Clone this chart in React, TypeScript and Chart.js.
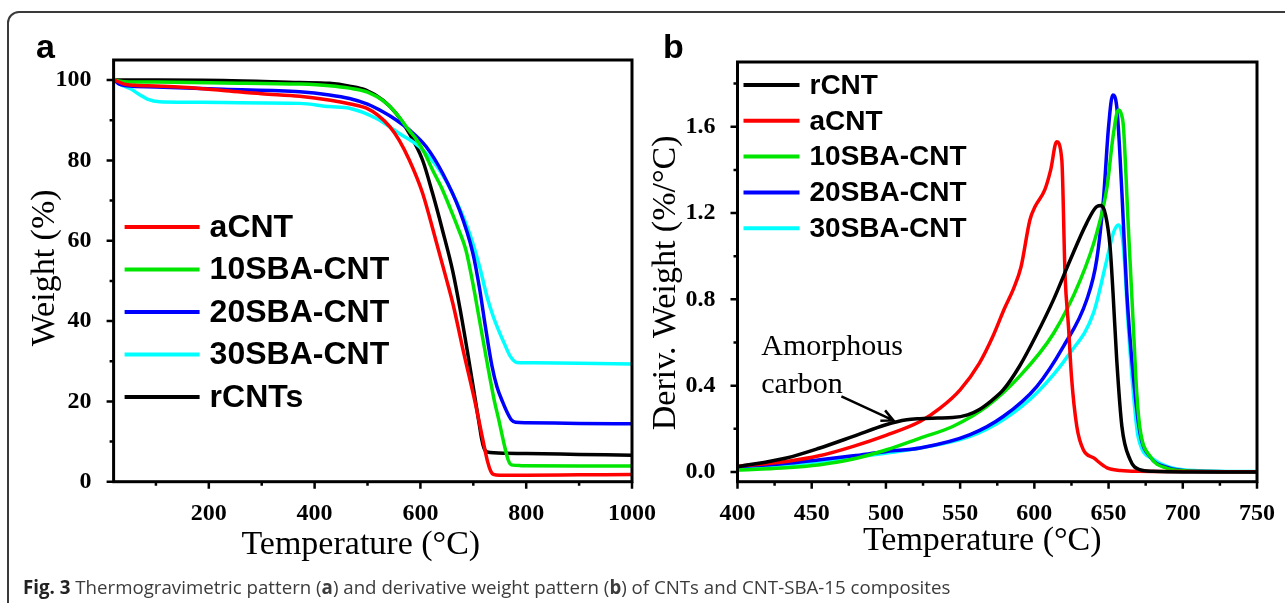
import React, { useEffect, useRef } from 'react';
import { Chart, registerables } from 'chart.js';
Chart.register(...registerables);

const PAGE_W = 1285;
const PAGE_H = 603;

// ---------- Panel a : TGA ----------
const A_X_TICKS = [200, 400, 600, 800, 1000];
const A_X_MINOR = [100, 300, 500, 700, 900];
const A_Y_TICKS = [0, 20, 40, 60, 80, 100];
const A_Y_MINOR = [10, 30, 50, 70, 90];
const A_LABELS = ['aCNT', '10SBA-CNT', '20SBA-CNT', '30SBA-CNT', 'rCNTs'];
const A_COLORS = ['#ff0000', '#00e600', '#0000ff', '#00ffff', '#000000'];

const A_ACNT = [[22,100],[40,99.0],[60,98.7],[100,98.5],[150,98.2],[227,97.4],[300,96.6],[372,96.0],[430,95.0],[470,94.0],[498,93.0],[520,91.2],[542,88.4],[560,85.0],[579,80.1],[604,71.9],[629,60.2],[648,51],[662,44],[682,32],[703,20],[718,10.5],[727,5],[733,2.6],[738,1.8],[750,1.6],[800,1.6],[900,1.7],[1000,1.8]];
const A_10SBA = [[22,100],[40,99.6],[100,99.5],[227,99.3],[372,99.0],[428,98.6],[466,98.0],[500,97.0],[530,94.8],[555,91.6],[579,87.4],[592,85.3],[608,81.8],[623,77.6],[640,73.2],[655,68.5],[671,63.2],[686,57.7],[699,49.5],[712,40],[727,29],[740,20],[748,15.5],[758,9.5],[766,5.4],[772,4.2],[790,4.0],[900,3.9],[1000,3.9]];
const A_20SBA = [[22,100],[30,99.0],[45,98.6],[100,98.3],[227,97.7],[372,97.1],[428,96.3],[466,95.4],[500,94.0],[529,92.1],[555,90.0],[579,87.6],[611,83.4],[642,76.8],[674,67.6],[699,57],[712,48],[723,38.5],[735,29],[745,23.5],[755,20],[765,17],[772,15.4],[780,14.8],[800,14.7],[900,14.5],[1000,14.4]];
const A_30SBA = [[22,100],[35,98.8],[51,97.9],[70,96.3],[85,95.2],[107,94.6],[150,94.5],[227,94.4],[372,94.2],[428,93.4],[466,93.0],[516,90.5],[560,86.7],[598,83.4],[636,77.6],[667,70.1],[693,61.8],[712,53.5],[726,46],[738,41],[750,37],[760,34],[770,31.2],[782,29.7],[800,29.6],[900,29.5],[1000,29.3]];
const A_RCNT = [[22,100],[100,100],[227,99.9],[372,99.4],[428,99.2],[466,98.5],[497,97.5],[529,95],[554,91.7],[579,86.7],[604,80.1],[623,71.8],[642,62.5],[661,52.5],[675,43],[690,31.5],[703,21],[711,14.5],[716,10.5],[720,8.4],[726,7.4],[760,7.1],[800,7.0],[900,6.8],[1000,6.6]];
const A_SERIES = [A_ACNT, A_10SBA, A_20SBA, A_30SBA, A_RCNT];

// ---------- Panel b : DTG ----------
const B_X_TICKS = [400, 450, 500, 550, 600, 650, 700, 750];
const B_X_MINOR = [425, 475, 525, 575, 625, 675, 725];
const B_Y_TICKS = [0, 0.4, 0.8, 1.2, 1.6];
const B_Y_MINOR = [0.2, 0.6, 1.0, 1.4, 1.8];
const B_LABELS = ['rCNT', 'aCNT', '10SBA-CNT', '20SBA-CNT', '30SBA-CNT'];
const B_COLORS = ['#000000', '#ff0000', '#00e600', '#0000ff', '#00ffff'];

const B_RCNT = [[400,0.024],[433,0.065],[455,0.11],[478,0.165],[500,0.219],[514,0.242],[523,0.247],[535,0.25],[545,0.252],[555,0.265],[563,0.29],[571,0.33],[579,0.38],[590,0.49],[601,0.63],[613,0.8],[624,0.98],[635,1.15],[642,1.23],[645,1.235],[648,1.19],[651,1.044],[653,0.83],[655.5,0.52],[659,0.21],[664.5,0.057],[671,0.011],[680,0.003],[700,0.0],[750,0.0]];
const B_ACNT = [[400,0.026],[433,0.049],[455,0.075],[478,0.119],[500,0.17],[523,0.234],[536.5,0.296],[550,0.381],[563,0.505],[572,0.628],[580,0.76],[586,0.85],[591,0.95],[597,1.168],[600.5,1.23],[607,1.307],[611,1.40],[615,1.53],[618.5,1.446],[620.7,0.91],[623,0.674],[625,0.443],[628.6,0.211],[633,0.103],[640,0.065],[649,0.019],[658,0.007],[670,0.003],[700,0.002],[750,0.001]];
const B_10SBA = [[400,0.008],[430,0.018],[455.6,0.034],[478,0.06],[500.5,0.103],[523,0.157],[545,0.211],[568,0.304],[590,0.443],[613,0.643],[631,0.89],[642,1.107],[649,1.322],[653,1.554],[656.6,1.677],[658.5,1.66],[660,1.6],[663.3,1.137],[666.7,0.674],[669,0.365],[671.2,0.2],[678,0.072],[689,0.018],[703,0.005],[750,0.001]];
const B_20SBA = [[400,0.024],[430,0.038],[455.6,0.057],[478,0.075],[500.5,0.095],[523,0.111],[556.7,0.173],[579,0.257],[601.6,0.396],[619.5,0.581],[635.3,0.798],[642,0.983],[646.5,1.26],[650,1.6],[652.8,1.747],[655.5,1.693],[659,1.292],[662.3,0.829],[666.7,0.443],[671.2,0.18],[678,0.07],[690,0.02],[705,0.005],[750,0.001]];
const B_30SBA = [[400,0.015],[430,0.03],[455.6,0.049],[478,0.068],[500.5,0.088],[523,0.111],[556.7,0.165],[579,0.242],[601.6,0.366],[624,0.551],[639.8,0.736],[648.8,0.983],[653.2,1.107],[656.6,1.145],[660,1.044],[663.3,0.674],[666.7,0.366],[670,0.16],[680,0.06],[692,0.02],[710,0.006],[750,0.002]];
const B_SERIES = [B_RCNT, B_ACNT, B_10SBA, B_20SBA, B_30SBA];

// annotation (data units)
const B_NOTE_LINES = ['Amorphous', 'carbon'];
const B_NOTE_POS = [[416, 0.543], [416, 0.366]];
const B_ARROW = [[470, 0.35], [505, 0.239]];

const TICK_FONT = { family: 'Liberation Serif', weight: 'bold' as const, size: 24 };

type PanelCfg = {
  letter: string; letterX: number;
  xTitle: string; yTitle: string;
  xMinor: number[]; yMinor: number[];
  labels: string[]; colors: string[];
  legLine: [number, number]; legText: number; legTop: number; legStep: number; legFont: number; legWidth: number;
  xTitleDx: number; xTitleY: number; yTitleX: number; yTitleDy: number;
  note?: boolean;
};

function makeDecor(cfg: PanelCfg) {
  return {
    id: 'decor',
    afterDatasetsDraw(chart: any) {
      const { ctx, chartArea: ca, scales } = chart;
      const xs = scales.x, ys = scales.y;
      ctx.save();
      // frame
      ctx.strokeStyle = '#000';
      ctx.lineWidth = 3;
      ctx.strokeRect(ca.left, ca.top, ca.right - ca.left, ca.bottom - ca.top);
      // ticks (outward)
      ctx.lineWidth = 2.5;
      ctx.beginPath();
      const xt = (v: number, len: number) => { const p = xs.getPixelForValue(v); ctx.moveTo(p, ca.bottom); ctx.lineTo(p, ca.bottom + len); };
      const yt = (v: number, len: number) => { const p = ys.getPixelForValue(v); ctx.moveTo(ca.left, p); ctx.lineTo(ca.left - len, p); };
      xs.ticks.forEach((t: any) => xt(t.value, 7));
      cfg.xMinor.forEach(v => xt(v, 4));
      ys.ticks.forEach((t: any) => yt(t.value, 7));
      cfg.yMinor.forEach(v => yt(v, 4));
      ctx.stroke();
      // legend
      ctx.font = `bold ${cfg.legFont}px "Liberation Sans", Arial, sans-serif`;
      ctx.textBaseline = 'middle';
      ctx.textAlign = 'left';
      cfg.labels.forEach((lab, i) => {
        const y = ca.top + cfg.legTop + i * cfg.legStep;
        ctx.strokeStyle = cfg.colors[i];
        ctx.lineWidth = cfg.legWidth;
        ctx.beginPath();
        ctx.moveTo(ca.left + cfg.legLine[0], y);
        ctx.lineTo(ca.left + cfg.legLine[1], y);
        ctx.stroke();
        ctx.fillStyle = '#000';
        ctx.fillText(lab, ca.left + cfg.legText, y + 1);
      });
      // annotation
      if (cfg.note) {
        ctx.font = '30px "Liberation Serif", "Times New Roman", serif';
        ctx.fillStyle = '#000';
        ctx.textBaseline = 'alphabetic';
        B_NOTE_LINES.forEach((t, i) => {
          ctx.fillText(t, xs.getPixelForValue(B_NOTE_POS[i][0]), ys.getPixelForValue(B_NOTE_POS[i][1]));
        });
        const x0 = xs.getPixelForValue(B_ARROW[0][0]), y0 = ys.getPixelForValue(B_ARROW[0][1]);
        const x1 = xs.getPixelForValue(B_ARROW[1][0]), y1 = ys.getPixelForValue(B_ARROW[1][1]);
        const ang = Math.atan2(y1 - y0, x1 - x0);
        ctx.strokeStyle = '#000';
        ctx.lineWidth = 2.5;
        ctx.beginPath();
        ctx.moveTo(x0, y0); ctx.lineTo(x1, y1);
        ctx.moveTo(x1 - 13 * Math.cos(ang - 0.45), y1 - 13 * Math.sin(ang - 0.45));
        ctx.lineTo(x1, y1);
        ctx.lineTo(x1 - 13 * Math.cos(ang + 0.45), y1 - 13 * Math.sin(ang + 0.45));
        ctx.stroke();
      }
      // axis titles
      ctx.fillStyle = '#000';
      ctx.font = '34px "Liberation Serif", "Times New Roman", serif';
      ctx.textAlign = 'center';
      ctx.textBaseline = 'middle';
      ctx.fillText(cfg.xTitle, (ca.left + ca.right) / 2 + cfg.xTitleDx, cfg.xTitleY);
      ctx.save();
      ctx.translate(cfg.yTitleX, (ca.top + ca.bottom) / 2 + cfg.yTitleDy);
      ctx.rotate(-Math.PI / 2);
      ctx.fillText(cfg.yTitle, 0, 0);
      ctx.restore();
      // panel letter
      ctx.font = 'bold 34px "Liberation Sans", Arial, sans-serif';
      ctx.textAlign = 'left';
      ctx.textBaseline = 'alphabetic';
      ctx.fillText(cfg.letter, cfg.letterX, 58);
      ctx.restore();
    },
  };
}

function buildConfig(opts: {
  series: number[][][]; labels: string[]; colors: string[];
  xMin: number; xMax: number; yMin: number; yMax: number;
  xTicks: number[]; yTicks: number[]; yFmt: (v: number) => string;
  padLeft: number; padRight: number; padTop: number; yWidth: number; xHeight: number;
  lineWidth: number; decor: any;
}) {
  const fix = (s: any) => { s.paddingLeft = 0; s.paddingRight = 0; s.paddingTop = 0; s.paddingBottom = 0; };
  return {
    type: 'line' as const,
    data: {
      datasets: opts.series.map((pts, i) => ({
        label: opts.labels[i],
        data: pts.map(([x, y]) => ({ x, y })),
        borderColor: opts.colors[i],
        backgroundColor: opts.colors[i],
        borderWidth: opts.lineWidth,
        pointRadius: 0,
        fill: false,
        cubicInterpolationMode: 'monotone' as const,
      })),
    },
    options: {
      animation: false as const,
      responsive: false,
      events: [],
      layout: { padding: { left: opts.padLeft, right: opts.padRight, top: opts.padTop, bottom: 0 } },
      plugins: { legend: { display: false }, tooltip: { enabled: false }, title: { display: false } },
      scales: {
        x: {
          type: 'linear' as const, min: opts.xMin, max: opts.xMax,
          afterBuildTicks: (s: any) => { s.ticks = opts.xTicks.map(v => ({ value: v })); },
          afterFit: (s: any) => { s.height = opts.xHeight; fix(s); },
          grid: { display: false }, border: { display: false },
          ticks: { font: TICK_FONT, color: '#000', padding: 10, maxRotation: 0, autoSkip: false, callback: (v: any) => String(v) },
        },
        y: {
          type: 'linear' as const, min: opts.yMin, max: opts.yMax,
          afterBuildTicks: (s: any) => { s.ticks = opts.yTicks.map(v => ({ value: v })); },
          afterFit: (s: any) => { s.width = opts.yWidth; fix(s); },
          grid: { display: false }, border: { display: false },
          ticks: { font: TICK_FONT, color: '#000', padding: 14, autoSkip: false, callback: (v: any) => opts.yFmt(Number(v)) },
        },
      },
    },
    plugins: [opts.decor],
  };
}

export default function App() {
  const aRef = useRef<HTMLCanvasElement>(null);
  const bRef = useRef<HTMLCanvasElement>(null);

  useEffect(() => {
    const aDecor = makeDecor({
      letter: 'a', letterX: 36, xTitle: 'Temperature (°C)', yTitle: 'Weight (%)',
      xMinor: A_X_MINOR, yMinor: A_Y_MINOR, labels: A_LABELS, colors: A_COLORS,
      legLine: [11, 86], legText: 96, legTop: 167, legStep: 42.5, legFont: 32, legWidth: 4,
      xTitleDx: -12, xTitleY: 545, yTitleX: 45, yTitleDy: -3,
    });
    const bDecor = makeDecor({
      letter: 'b', letterX: 663, xTitle: 'Temperature (°C)', yTitle: 'Deriv. Weight (%/°C)',
      xMinor: B_X_MINOR, yMinor: B_Y_MINOR, labels: B_LABELS, colors: B_COLORS,
      legLine: [6, 62], legText: 72, legTop: 23, legStep: 35.8, legFont: 28, legWidth: 4,
      xTitleDx: -15, xTitleY: 541, yTitleX: 666, yTitleDy: 11, note: true,
    });
    const ca = new Chart(aRef.current!, buildConfig({
      series: A_SERIES, labels: A_LABELS, colors: A_COLORS,
      xMin: 20, xMax: 1000, yMin: 0, yMax: 105,
      xTicks: A_X_TICKS, yTicks: A_Y_TICKS, yFmt: v => String(v),
      padLeft: 0, padRight: PAGE_W - 632, padTop: 60, yWidth: 113.6, xHeight: PAGE_H - 481.7,
      lineWidth: 3.5, decor: aDecor,
    }) as any);
    const cb = new Chart(bRef.current!, buildConfig({
      series: B_SERIES, labels: B_LABELS, colors: B_COLORS,
      xMin: 400, xMax: 750, yMin: -0.045, yMax: 1.9,
      xTicks: B_X_TICKS, yTicks: B_Y_TICKS, yFmt: v => v.toFixed(1),
      padLeft: 650, padRight: PAGE_W - 1257, padTop: 62, yWidth: 87.5, xHeight: PAGE_H - 481.7,
      lineWidth: 3.5, decor: bDecor,
    }) as any);
    return () => { ca.destroy(); cb.destroy(); };
  }, []);

  const abs: React.CSSProperties = { position: 'absolute', left: 0, top: 0 };
  return (
    <div style={{ position: 'fixed', left: 0, top: 0, width: PAGE_W, height: PAGE_H, background: '#fff', overflow: 'hidden' }}>
      <div style={{ position: 'absolute', left: 7, top: 11, width: 1400, height: 800, border: '2px solid #3a3a3a', borderRadius: 12, boxSizing: 'border-box' }} />
      <canvas ref={aRef} width={PAGE_W} height={PAGE_H} style={abs} />
      <canvas ref={bRef} width={PAGE_W} height={PAGE_H} style={abs} />
      <div style={{ position: 'absolute', left: 23, top: 575, fontFamily: '"Open Sans", "Noto Sans", sans-serif', fontSize: 18.7, lineHeight: '24px', color: '#3c3c3c', whiteSpace: 'nowrap' }}>
        <b style={{ color: '#222' }}>Fig. 3</b> Thermogravimetric pattern (<b>a</b>) and derivative weight pattern (<b>b</b>) of CNTs and CNT-SBA-15 composites
      </div>
    </div>
  );
}
